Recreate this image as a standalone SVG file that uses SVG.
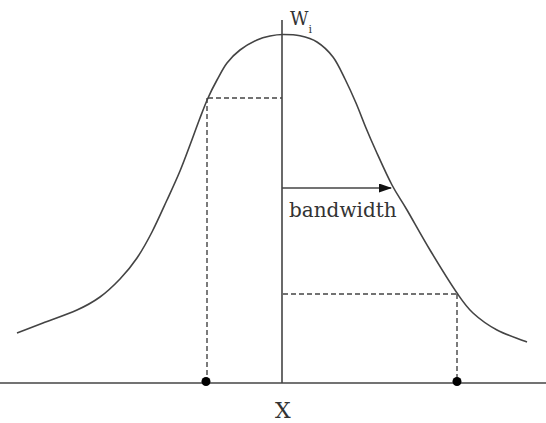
<svg xmlns="http://www.w3.org/2000/svg" width="546" height="423" viewBox="0 0 546 423">
<defs>
<style>
.ln{stroke:#444;stroke-width:1.6;fill:none}
.dash{stroke:#444;stroke-width:1.4;fill:none;stroke-dasharray:5 3}
.t{font-family:"DejaVu Serif","Liberation Serif",serif;fill:#333}
</style>
<marker id="ah" markerWidth="13" markerHeight="9" refX="12" refY="4.5" orient="auto" markerUnits="userSpaceOnUse">
<path d="M0,0 L13,4.5 L0,9 Z" fill="#111"/>
</marker>
</defs>
<rect width="546" height="423" fill="#fff"/>
<g id="axes">
<line class="ln" x1="0" y1="383" x2="546" y2="383"/>
<line class="ln" x1="282" y1="20" x2="282" y2="383"/>
</g>
<g id="curve">
<path class="ln" d="M17,333 C25.7,329.7 33,326.8 43,323 C53,319.2 67.5,314.3 77,310 C86.5,305.7 92.8,302.2 100,297 C107.2,291.8 113.8,285.5 120,279 C126.2,272.5 131.7,265.8 137,258 C142.3,250.2 147,241.7 152,232 C157,222.3 162.3,210.2 167,200 C171.7,189.8 176.2,180.2 180,171 C183.8,161.8 186.7,153.8 190,145 C193.3,136.2 197,125.8 200,118 C203,110.2 205.2,104.3 208,98 C210.8,91.7 213.8,85.8 217,80 C220.2,74.2 223.2,68 227,63 C230.8,58 235,53.8 240,50 C245,46.2 252,42.3 257,40 C262,37.7 265.7,36.9 270,36 C274.3,35.1 278,34.5 283,34.5 C288,34.5 294.3,34.45 300,35.7 C305.7,36.95 311.5,38.45 317,42 C322.5,45.55 328.3,50.8 333,57 C337.7,63.2 341.2,71.3 345,79 C348.8,86.7 352.5,94.8 356,103 C359.5,111.2 362.7,120 366,128 C369.3,136 371.7,141.5 376,151 C380.3,160.5 386.8,175.2 392,185 C397.2,194.8 400.7,199.2 407,210 C413.3,220.8 421.7,236.2 430,250 C438.3,263.8 449.8,282.5 457,293 C464.2,303.5 466.3,306.8 473,313 C479.7,319.2 488,325.2 497,330 C506,334.8 517,338 527,342"/>
</g>
<g id="connectors">
<line class="dash" x1="208" y1="98" x2="282" y2="98"/>
<line class="dash" x1="207" y1="98" x2="207" y2="381"/>
<line class="dash" x1="283" y1="294" x2="457" y2="294"/>
<line class="dash" x1="457" y1="294" x2="457" y2="381"/>
<line class="ln" x1="282" y1="188" x2="391" y2="188" marker-end="url(#ah)"/>
</g>
<g id="points">
<circle cx="206" cy="381.5" r="4.5" fill="#000"/>
<circle cx="457" cy="381.5" r="4.5" fill="#000"/>
</g>
<g id="labels">
<text class="t" x="290" y="25" font-size="18">W<tspan font-size="11" dy="8">i</tspan></text>
<text class="t" x="289" y="217" font-size="20">bandwidth</text>
<text class="t" x="275" y="418" font-size="22">X</text>
</g>
</svg>
